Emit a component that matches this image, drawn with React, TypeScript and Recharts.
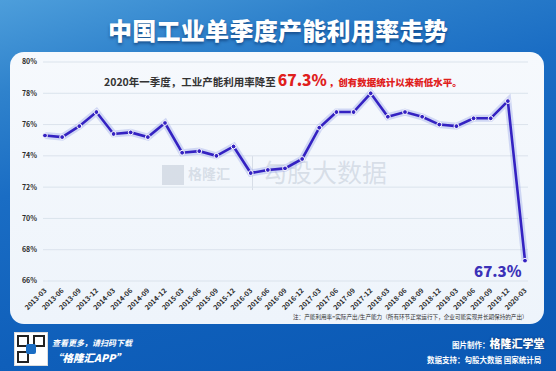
import React from 'react';
import { CartesianGrid, Line, LineChart, XAxis, YAxis } from 'recharts';

// quarter labels, 2013-03 .. 2020-03
const quarters = [
  '2013-03', '2013-06', '2013-09', '2013-12',
  '2014-03', '2014-06', '2014-09', '2014-12',
  '2015-03', '2015-06', '2015-09', '2015-12',
  '2016-03', '2016-06', '2016-09', '2016-12',
  '2017-03', '2017-06', '2017-09', '2017-12',
  '2018-03', '2018-06', '2018-09', '2018-12',
  '2019-03', '2019-06', '2019-09', '2019-12',
  '2020-03',
];

// capacity utilisation rate, %
const utilisation = [
  75.3, 75.2, 75.9, 76.8,
  75.4, 75.5, 75.2, 76.1,
  74.2, 74.3, 74.0, 74.6,
  72.9, 73.1, 73.2, 73.8,
  75.8, 76.8, 76.8, 78.0,
  76.5, 76.8, 76.5, 76.0,
  75.9, 76.4, 76.4, 77.5,
  67.3,
];

const yTicks = [66, 68, 70, 72, 74, 76, 78, 80];

const data = quarters.map((q, i) => ({ q, rate: utilisation[i] }));

const FONT = '"Noto Sans CJK SC", "Noto Sans", sans-serif';
const LINE = '#3422c2';

const QuarterTick = ({ x, y, payload }: any) => (
  <g transform={`translate(${x},${y})`}>
    <text
      x={0}
      y={0}
      dy={3}
      textAnchor="end"
      transform="rotate(-45)"
      fontSize={7}
      fontWeight={700}
      fill="#2b2b2b"
      fontFamily={FONT}
    >
      {payload.value}
    </text>
  </g>
);

const abs = (left: number, top: number, extra: any = {}) => ({
  position: 'absolute' as const,
  left,
  top,
  fontFamily: FONT,
  whiteSpace: 'nowrap' as const,
  ...extra,
});

const WM = 'rgba(170,182,198,0.38)';

const App = () => {
  return (
    <div
      style={{
        position: 'relative',
        width: 556,
        height: 371,
        overflow: 'hidden',
        background: 'linear-gradient(165deg, #4d9edb 0%, #2f82cc 18%, #1a6dc4 38%, #0f5fba 70%, #0a58b4 100%)',
      }}
    >
      <style>{'body{margin:0}'}</style>

      <div style={abs(0, 14, { width: 556, textAlign: 'center', color: '#fff', fontSize: 24, fontWeight: 900, letterSpacing: 0.3, lineHeight: '32px', textShadow: '0 2px 3px rgba(0,30,80,0.5)' })}>
        中国工业单季度产能利用率走势
      </div>

      <div
        style={{
          position: 'absolute',
          left: 10,
          top: 52,
          width: 534,
          height: 272,
          borderRadius: 14,
          background: 'linear-gradient(180deg, #f6f9fd 0%, #eef4fb 100%)',
        }}
      />

      {/* watermark */}
      <div style={abs(162, 162, { color: WM, fontSize: 14, fontWeight: 700, lineHeight: '22px' })}>
        <span style={{ display: 'inline-block', width: 22, height: 20, background: WM, verticalAlign: 'middle', marginRight: 4 }} />
        格隆汇
      </div>
      <div style={abs(252, 156, { width: 1, height: 34, background: WM })} />
      <div style={abs(262, 154, { color: WM, fontSize: 25, lineHeight: '34px' })}>勾股大数据</div>

      <div style={{ position: 'absolute', left: 0, top: 0 }}>
        <LineChart width={556} height={371} data={data} margin={{ top: 62, right: 28, left: 0, bottom: 50 }}>
          <CartesianGrid vertical={false} stroke="#dbe3ec" />
          <XAxis
            dataKey="q"
            interval={0}
            axisLine={false}
            tickLine={false}
            height={40}
            padding={{ left: 2, right: 3 }}
            tick={<QuarterTick />}
          />
          <YAxis
            width={43}
            domain={[66, 80]}
            ticks={yTicks}
            axisLine={false}
            tickLine={false}
            tickSize={4}
            tickMargin={2}
            tickFormatter={(v: number) => `${v}%`}
            tick={{ fontSize: 7, fontWeight: 700, fill: '#2b2b2b', fontFamily: FONT }}
          />
          <Line
            type="linear"
            dataKey="rate"
            stroke="#8c9be6"
            strokeOpacity={0.35}
            strokeWidth={7}
            dot={false}
            activeDot={false}
            isAnimationActive={false}
          />
          <Line
            type="linear"
            dataKey="rate"
            stroke={LINE}
            strokeWidth={2.6}
            dot={{ r: 2.4, fill: LINE, stroke: '#fff', strokeWidth: 1 }}
            activeDot={false}
            isAnimationActive={false}
          />
        </LineChart>
      </div>

      <div style={abs(104, 70, { fontSize: 10.5, fontWeight: 700, color: '#333', lineHeight: '18px' })}>
        2020年一季度，工业产能利用率降至
        <span style={{ color: '#e0201c', fontSize: 15.5, fontWeight: 900, margin: '0 2px' }}>67.3%</span>
        <span style={{ color: '#e0201c', fontSize: 9.5, fontWeight: 900 }}>，创有数据统计以来新低水平。</span>
      </div>

      <div style={abs(474, 261, { fontSize: 15, fontWeight: 900, color: '#3b31b8', lineHeight: '20px' })}>67.3%</div>

      <div style={abs(293, 313, { fontSize: 5.6, color: '#333', lineHeight: '8px' })}>
        注：产能利用率=实际产出/生产能力（所有环节正常运行下，企业可能实现并长期保持的产出）
      </div>

      {/* footer */}
      <div style={abs(14, 332, { width: 32, height: 32, background: '#fff', border: '1px solid #ddd' })}>
        <div style={{ position: 'absolute', left: 2, top: 2, width: 8, height: 8, border: '2px solid #222' }} />
        <div style={{ position: 'absolute', right: 2, top: 2, width: 8, height: 8, border: '2px solid #222' }} />
        <div style={{ position: 'absolute', left: 2, bottom: 2, width: 8, height: 8, border: '2px solid #222' }} />
        <div style={{ position: 'absolute', left: 11, top: 11, width: 10, height: 10, background: '#1a6dc4', borderRadius: 2 }} />
      </div>
      <div style={abs(52, 337, { fontSize: 8, color: '#fff', fontStyle: 'italic', fontWeight: 700, lineHeight: '12px' })}>
        查看更多，请扫码下载
      </div>
      <div style={abs(52, 351, { fontSize: 10.5, color: '#fff', fontStyle: 'italic', fontWeight: 900, lineHeight: '14px' })}>
        “格隆汇APP”
      </div>
      <div style={abs(452, 337, { fontSize: 7.5, color: '#fff', fontWeight: 700, lineHeight: '13px' })}>
        图片制作：
        <span style={{ fontSize: 11, fontWeight: 900, color: '#fff', textShadow: '0 0 2px #0a2a60' }}>格隆汇学堂</span>
      </div>
      <div style={abs(427, 354, { fontSize: 7.5, color: '#fff', fontWeight: 700, lineHeight: '12px' })}>
        数据支持：勾股大数据 国家统计局
      </div>
    </div>
  );
};

export default App;
